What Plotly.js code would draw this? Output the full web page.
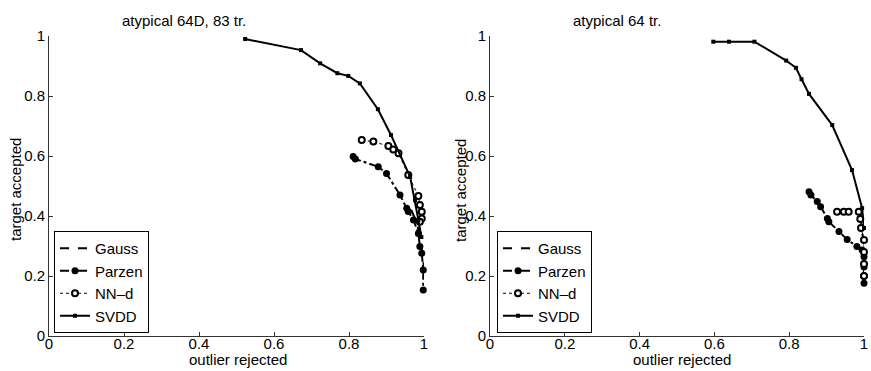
<!DOCTYPE html>
<html><head><meta charset="utf-8">
<script src="https://cdn.plot.ly/plotly-3.0.1.min.js"></script>
<style>html,body{margin:0;padding:0;background:#fff}#chart{width:871px;height:371px}</style>
</head><body><div id="chart"></div>
<script>
// Left panel: atypical 64D, 83 tr.
const L_svdd_x = [0.523,0.672,0.723,0.769,0.798,0.829,0.877,0.912,0.963,0.976,0.985,0.993];
const L_svdd_y = [0.990,0.953,0.909,0.876,0.867,0.842,0.756,0.670,0.531,0.453,0.387,0.330];
const L_parzen_x = [0.811,0.817,0.878,0.900,0.936,0.954,0.958,0.972,0.985,0.989,0.994,0.998,0.998];
const L_parzen_y = [0.598,0.590,0.564,0.542,0.470,0.426,0.415,0.387,0.342,0.298,0.276,0.220,0.153];
const L_gauss_x = [0.966,0.980,0.990,0.996,1.000];
const L_gauss_y = [0.420,0.380,0.330,0.280,0.230];
const L_nnd_x = [0.834,0.865,0.905,0.918,0.932,0.958,0.985,0.989,0.994,0.994,0.989];
const L_nnd_y = [0.653,0.648,0.633,0.622,0.609,0.537,0.467,0.437,0.414,0.392,0.381];
// Right panel: atypical 64 tr.
const R_svdd_x = [0.597,0.639,0.707,0.792,0.818,0.833,0.853,0.915,0.968,0.995,1.000];
const R_svdd_y = [0.981,0.981,0.981,0.918,0.894,0.856,0.807,0.703,0.553,0.426,0.360];
const R_parzen_x = [0.853,0.858,0.875,0.884,0.902,0.906,0.933,0.955,0.981,0.995,1.000,1.000,1.000,1.000];
const R_parzen_y = [0.481,0.470,0.448,0.431,0.392,0.381,0.348,0.322,0.298,0.287,0.264,0.230,0.200,0.176];
const R_gauss_x = [0.990,0.995,1.000,1.000];
const R_gauss_y = [0.400,0.350,0.300,0.190];
const R_nnd_x = [0.928,0.946,0.959,0.986,0.990,0.992,1.000,1.000,1.000,1.000];
const R_nnd_y = [0.414,0.414,0.414,0.414,0.390,0.360,0.320,0.280,0.240,0.200];

const titles = ['atypical 64D, 83 tr.','atypical 64 tr.'];
const names = ['Gauss','Parzen','NN\u2013d','SVDD'];
const tickVals = [0,0.2,0.4,0.6,0.8,1];
const tickText = ['0','0.2','0.4','0.6','0.8','1'];

function traces(gx,gy,px,py,nx,ny,sx,sy,xa,ya,lg){
  return [
    {x:gx,y:gy,name:names[0],mode:'lines',line:{color:'#000',width:2,dash:'dash'},xaxis:xa,yaxis:ya,legend:lg,cliponaxis:false},
    {x:px,y:py,name:names[1],mode:'lines+markers',line:{color:'#000',width:2,dash:'dashdot'},marker:{color:'#000',size:7,symbol:'circle'},xaxis:xa,yaxis:ya,legend:lg,cliponaxis:false},
    {x:nx,y:ny,name:names[2],mode:'lines+markers',line:{color:'#000',width:1,dash:'dot'},marker:{color:'#fff',size:6,symbol:'circle',line:{color:'#000',width:2}},xaxis:xa,yaxis:ya,legend:lg,cliponaxis:false},
    {x:sx,y:sy,name:names[3],mode:'lines+markers',line:{color:'#000',width:2},marker:{color:'#000',size:4,symbol:'square'},xaxis:xa,yaxis:ya,legend:lg,cliponaxis:false}
  ];
}
const data = [
  ...traces(L_gauss_x,L_gauss_y,L_parzen_x,L_parzen_y,L_nnd_x,L_nnd_y,L_svdd_x,L_svdd_y,'x','y','legend'),
  ...traces(R_gauss_x,R_gauss_y,R_parzen_x,R_parzen_y,R_nnd_x,R_nnd_y,R_svdd_x,R_svdd_y,'x2','y2','legend2')
];
const W=871,H=371;
const font = {family:'"Liberation Sans", Arial, sans-serif',size:15,color:'#000'};
function ax(dom,anchor,isX){
  const a = {domain:dom,anchor:anchor,range:[0,1],showgrid:false,zeroline:false,showline:true,linecolor:'#333',linewidth:1,
    ticks:'inside',ticklen:4,tickcolor:'#333',tickvals:tickVals,ticktext:tickText,
    tickfont:font,mirror:false,fixedrange:true,ticklabeloverflow:'allow'};
  if(isX){ a.ticklabelstandoff=-6; }
  return a;
}
const yd=[(H-336)/H,(H-36)/H];
const xaxis = ax([49/W,424/W],'y',true);
const xaxis2 = ax([490/W,864/W],'y2',true);
const yaxis = ax(yd,'x',false); const yaxis2 = ax(yd,'x2',false);
const leg = (x)=>({x:x,y:(H-333)/H,xanchor:'left',yanchor:'bottom',bgcolor:'#fff',bordercolor:'#000',borderwidth:1,font:font,tracegroupgap:0,itemwidth:30});
const ann = [];
[[184,titles[0]],[617,titles[1]]].forEach(([cx,t])=>ann.push({text:t,x:cx/W,y:1-20/H,xref:'paper',yref:'paper',showarrow:false,font:font,xanchor:'center',yanchor:'middle'}));
[238,682].forEach(cx=>ann.push({text:'outlier rejected',x:cx/W,y:1-359/H,xref:'paper',yref:'paper',showarrow:false,font:font,xanchor:'center',yanchor:'middle'}));
[15,460].forEach(cx=>ann.push({text:'target accepted',x:cx/W,y:1-190/H,xref:'paper',yref:'paper',showarrow:false,font:font,textangle:-90,xanchor:'center',yanchor:'middle'}));
const layout = {width:W,height:H,margin:{l:0,r:0,t:0,b:0},paper_bgcolor:'#fff',plot_bgcolor:'#fff',font:font,
  xaxis:xaxis,yaxis:yaxis,xaxis2:xaxis2,yaxis2:yaxis2,
  legend:leg(54/W),legend2:leg(497/W),annotations:ann,showlegend:true};
Plotly.newPlot('chart',data,layout,{displayModeBar:false,staticPlot:true});
</script></body></html>
